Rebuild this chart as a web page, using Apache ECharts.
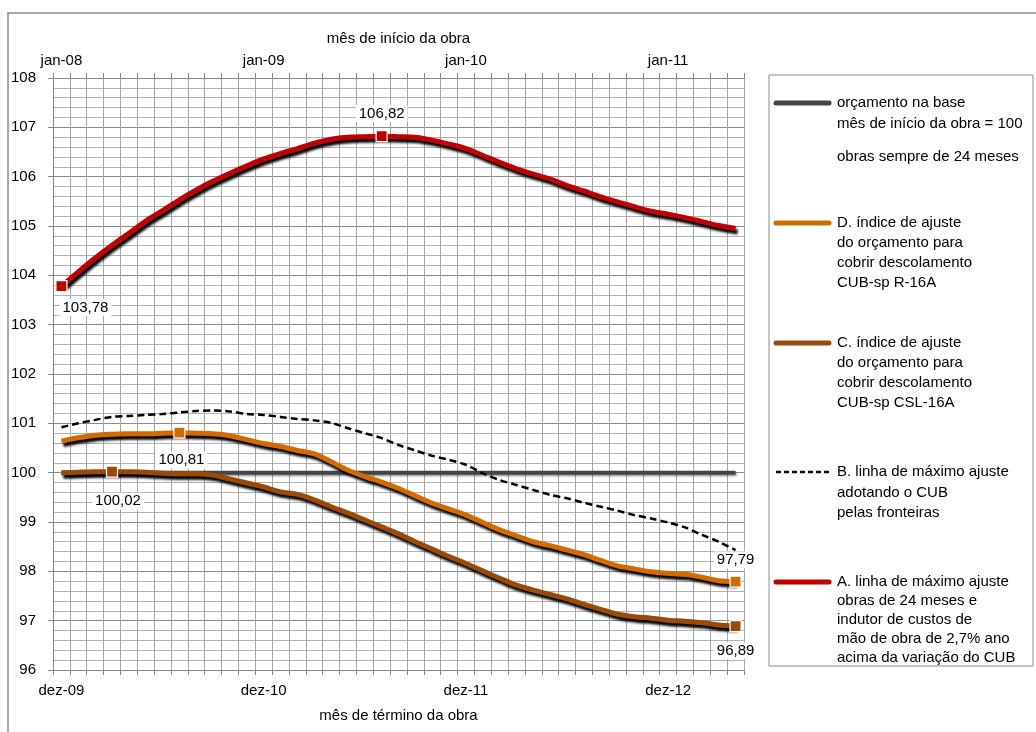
<!DOCTYPE html>
<html>
<head>
<meta charset="utf-8">
<script src="https://cdn.jsdelivr.net/npm/echarts@6/dist/echarts.min.js"></script>
<style>
html,body{margin:0;padding:0;background:#fff;}
#chart{width:1036px;height:732px;}
</style>
</head>
<body>
<div id="chart"></div>
<script>
// ---- data ----
const startMonths = ['jan-08','fev-08','mar-08','abr-08','mai-08','jun-08','jul-08','ago-08','set-08','out-08','nov-08','dez-08',
  'jan-09','fev-09','mar-09','abr-09','mai-09','jun-09','jul-09','ago-09','set-09','out-09','nov-09','dez-09',
  'jan-10','fev-10','mar-10','abr-10','mai-10','jun-10','jul-10','ago-10','set-10','out-10','nov-10','dez-10',
  'jan-11','fev-11','mar-11','abr-11','mai-11'];
const endMonths = ['dez-09','jan-10','fev-10','mar-10','abr-10','mai-10','jun-10','jul-10','ago-10','set-10','out-10','nov-10',
  'dez-10','jan-11','fev-11','mar-11','abr-11','mai-11','jun-11','jul-11','ago-11','set-11','out-11','nov-11',
  'dez-11','jan-12','fev-12','mar-12','abr-12','mai-12','jun-12','jul-12','ago-12','set-12','out-12','nov-12',
  'dez-12','jan-13','fev-13','mar-13','abr-13'];
const shownLabelIdx = [0, 12, 24, 36];

const baseValues = [100,100,100,100,100,100,100,100,100,100,100,100,100,100,100,100,100,100,100,100,100,
  100,100,100,100,100,100,100,100,100,100,100,100,100,100,100,100,100,100,100,100];
const seriesA = [103.78,104.07,104.35,104.61,104.85,105.10,105.31,105.53,105.73,105.91,106.07,106.22,106.36,106.47,
  106.57,106.68,106.76,106.80,106.81,106.82,106.81,106.80,106.74,106.66,106.57,106.43,106.29,106.16,106.05,105.95,
  105.82,105.71,105.59,105.49,105.39,105.30,105.24,105.17,105.09,105.01,104.95];
const seriesB = [100.92,101.00,101.07,101.13,101.15,101.17,101.19,101.22,101.25,101.26,101.24,101.19,101.17,101.13,
  101.09,101.06,101.01,100.90,100.80,100.70,100.56,100.45,100.34,100.26,100.16,99.99,99.85,99.75,99.65,99.55,
  99.48,99.39,99.31,99.23,99.14,99.07,98.99,98.89,98.74,98.60,98.43];
const seriesC = [100.00,100.01,100.02,100.02,100.02,100.01,99.99,99.98,99.98,99.95,99.87,99.79,99.71,99.61,
  99.56,99.45,99.31,99.18,99.04,98.90,98.76,98.60,98.45,98.30,98.16,98.01,97.86,97.72,97.62,97.53,
  97.44,97.33,97.23,97.13,97.08,97.05,97.01,96.99,96.96,96.91,96.89];
const seriesD = [100.64,100.71,100.76,100.78,100.79,100.79,100.80,100.81,100.80,100.79,100.75,100.67,100.59,100.53,
  100.45,100.38,100.22,100.05,99.92,99.81,99.68,99.53,99.38,99.26,99.14,98.99,98.84,98.72,98.60,98.52,
  98.43,98.34,98.22,98.11,98.05,97.99,97.96,97.94,97.88,97.81,97.79];
const markedA = [0, 19];
const markedC = [3, 40];
const markedD = [7, 40];

// ---- styling ----
const FONT = '"Liberation Sans", Arial, sans-serif';
const FS = 15;
const RED = '#C00000', ORANGE = '#D26A00', BROWN = '#9A4A08', GRAY = '#454545';
const labelCfg = {
  A: {0: {position: 'bottom', offset: [24, 2]}, 19: {position: 'top', offset: [0, -3]}},
  C: {3: {position: 'bottom', offset: [6, 10]}, 40: {position: 'bottom', offset: [0, 5]}},
  D: {7: {position: 'bottom', offset: [2, 8]}, 40: {position: 'top', offset: [0, -2]}}
};
const shadow = {shadowColor: 'rgba(0,0,0,1)', shadowBlur: 2.5, shadowOffsetX: 2, shadowOffsetY: 3.5};
const fmt = p => p.value.toFixed(2).replace('.', ',');

function build(values, marked, cfg, color) {
  return values.map((v, i) => {
    if (marked.indexOf(i) < 0) return v;
    return {
      value: v, symbol: 'rect', symbolSize: 11,
      itemStyle: {color: color, borderColor: '#fff', borderWidth: 1.2},
      label: Object.assign({show: true, formatter: fmt, color: '#000', fontSize: FS, fontFamily: FONT,
        backgroundColor: '#fff', padding: [1, 3]}, cfg[i])
    };
  });
}

const chart = echarts.init(document.getElementById('chart'), null, {renderer: 'canvas'});

const legendX1 = 776, legendX2 = 829, legendTX = 837;
function legLine(y, color, dash, w) {
  return {type: 'line', shape: {x1: legendX1, y1: y, x2: legendX2, y2: y},
    style: {stroke: color, lineWidth: w || 5, lineDash: dash || null, lineCap: dash ? 'butt' : 'round'}, z: 100};
}
function legText(y, text, lh) {
  return {type: 'text', x: legendTX, y: y - (lh || 20) / 2,
    style: {text: text, font: FS + 'px ' + FONT, fill: '#000', lineHeight: lh || 20, verticalAlign: 'top'}, z: 100};
}

const option = {
  animation: false,
  backgroundColor: '#fff',
  grid: {left: 53, right: 292, top: 78, bottom: 62},
  xAxis: [
    {
      type: 'category', data: endMonths, position: 'bottom', boundaryGap: true,
      name: 'mês de término da obra', nameLocation: 'middle', nameGap: 38,
      nameTextStyle: {fontSize: FS, fontFamily: FONT, color: '#000'},
      axisLine: {show: true, lineStyle: {color: '#868686', width: 1}},
      axisTick: {show: true, interval: 0, inside: false, length: 5, lineStyle: {color: '#868686'}},
      axisLabel: {interval: (i) => shownLabelIdx.indexOf(i) >= 0, margin: 13, fontSize: FS, fontFamily: FONT, color: '#000'},
      splitLine: {show: true, interval: 0, lineStyle: {color: '#a6a6a6', width: 1}}
    },
    {
      type: 'category', data: startMonths, position: 'top', boundaryGap: true,
      name: 'mês de início da obra', nameLocation: 'middle', nameGap: 32,
      nameTextStyle: {fontSize: FS, fontFamily: FONT, color: '#000'},
      axisLine: {show: true, lineStyle: {color: '#868686', width: 1}},
      axisTick: {show: true, interval: 0, inside: false, length: 5, lineStyle: {color: '#868686'}},
      axisLabel: {interval: (i) => shownLabelIdx.indexOf(i) >= 0, margin: 10, fontSize: FS, fontFamily: FONT, color: '#000'},
      splitLine: {show: false}
    }
  ],
  yAxis: {
    type: 'value', min: 96, max: 108, interval: 1,
    axisLine: {show: true, lineStyle: {color: '#868686', width: 1}},
    axisTick: {show: true, length: 5, lineStyle: {color: '#868686'}},
    axisLabel: {margin: 17, fontSize: FS, fontFamily: FONT, color: '#000'},
    splitLine: {show: true, lineStyle: {color: '#8c8c8c', width: 1.2}},
    minorTick: {show: false, splitNumber: 5},
    minorSplitLine: {show: true, lineStyle: {color: '#b2b2b2', width: 1}}
  },
  series: [
    {name: 'base', type: 'line', data: baseValues, symbol: 'none', z: 2,
      lineStyle: {color: GRAY, width: 4, shadowColor: 'rgba(0,0,0,0.4)', shadowBlur: 2, shadowOffsetX: 1, shadowOffsetY: 1.5}},
    {name: 'B', type: 'line', data: seriesB, symbol: 'none', smooth: 0.3, z: 3,
      lineStyle: {color: '#000', width: 2.5, type: [7, 4]}},
    {name: 'C', type: 'line', data: build(seriesC, markedC, labelCfg.C, BROWN), symbol: 'none', showSymbol: true, showAllSymbol: true,
      smooth: 0.3, z: 4, itemStyle: {color: BROWN}, lineStyle: Object.assign({color: BROWN, width: 5}, shadow)},
    {name: 'D', type: 'line', data: build(seriesD, markedD, labelCfg.D, ORANGE), symbol: 'none', showSymbol: true, showAllSymbol: true,
      smooth: 0.3, z: 5, itemStyle: {color: ORANGE}, lineStyle: Object.assign({color: ORANGE, width: 5}, shadow)},
    {name: 'A', type: 'line', data: build(seriesA, markedA, labelCfg.A, RED), symbol: 'none', showSymbol: true, showAllSymbol: true,
      smooth: 0.3, z: 6, itemStyle: {color: RED}, lineStyle: Object.assign({color: RED, width: 5}, shadow)}
  ],
  graphic: [
    {type: 'rect', shape: {x: 8, y: 13, width: 1060, height: 760}, style: {fill: 'none', stroke: '#8c8c8c', lineWidth: 1.5}, z: 0, silent: true},
    {type: 'rect', shape: {x: 769, y: 75, width: 264, height: 591}, style: {fill: '#fff', stroke: '#8c8c8c', lineWidth: 1}, z: 90},
    legLine(103, GRAY),
    legText(103, 'orçamento na base\nmês de início da obra = 100', 21),
    legText(157, 'obras sempre de 24 meses', 21),
    legLine(223, ORANGE),
    legText(223, 'D. índice de ajuste\ndo orçamento para\ncobrir descolamento\nCUB-sp R-16A', 20),
    legLine(343, BROWN),
    legText(343, 'C. índice de ajuste\ndo orçamento para\ncobrir descolamento\nCUB-sp CSL-16A', 20),
    legLine(472, '#000', [5, 3], 2.5),
    legText(472, 'B. linha de máximo ajuste\nadotando o CUB\npelas fronteiras', 20.5),
    legLine(582, RED),
    legText(582, 'A. linha de máximo ajuste\nobras de 24 meses e\nindutor de custos de\nmão de obra de 2,7% ano\nacima da variação do CUB', 19)
  ]
};
chart.setOption(option);
</script>
</body>
</html>
